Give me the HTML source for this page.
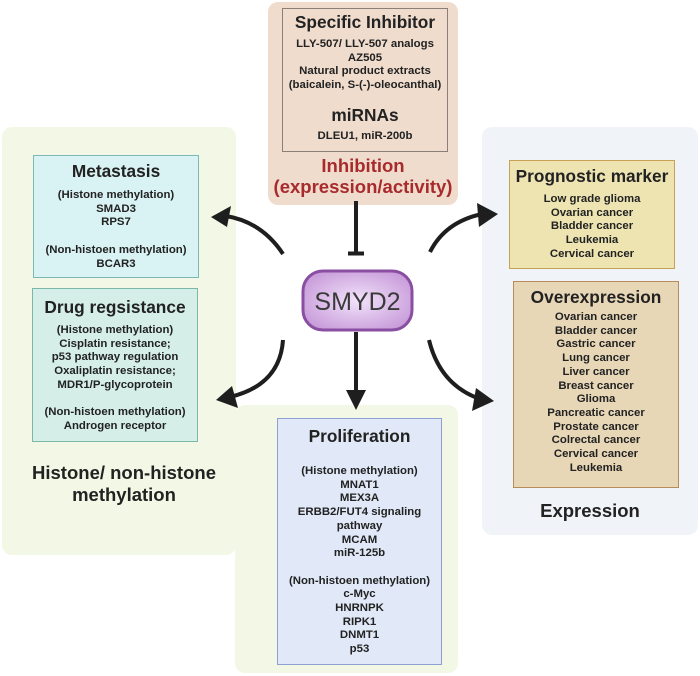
<!DOCTYPE html>
<html><head><meta charset="utf-8"><style>
body{margin:0;width:700px;height:676px;background:#fff;position:relative;overflow:hidden;font-family:"Liberation Sans",sans-serif;color:#222}
.a{position:absolute;box-sizing:border-box}
.t{text-align:center;font-weight:bold;font-size:11.4px;line-height:13.7px;white-space:nowrap}
.h{font-size:17.3px;line-height:20px;font-weight:bold;text-align:center;white-space:nowrap}
</style></head><body>
<div class="a" style="left:2px;top:127px;width:234px;height:428px;background:#f3f8e6;border-radius:10px"></div>
<div class="a" style="left:235px;top:405px;width:223px;height:268px;background:#f3f8e6;border-radius:10px"></div>
<div class="a" style="left:482px;top:127px;width:216px;height:408px;background:#f0f4f9;border-radius:10px"></div>
<div class="a" style="left:268px;top:2px;width:190px;height:203px;background:#efdccd;border-radius:10px"></div>

<div class="a" style="left:282px;top:8px;width:166px;height:144px;border:1px solid #8a8078;padding-top:3px">
<div class="h">Specific Inhibitor</div>
<div class="t" style="margin-top:6px">LLY-507/ LLY-507 analogs<br>AZ505<br>Natural product extracts<br>(baicalein, S-(-)-oleocanthal)</div>
<div class="h" style="margin-top:12px">miRNAs</div>
<div class="t" style="margin-top:5px">DLEU1, miR-200b</div>
</div>
<div class="a" style="left:268px;top:155px;width:190px;text-align:center;color:#a82a2c;font-weight:bold;font-size:18.5px;line-height:21px">Inhibition<br>(expression/activity)</div>

<div class="a" style="left:33px;top:155px;width:166px;height:123px;background:#d9f2f3;border:1px solid #7cb8b5;padding-top:5px">
<div class="h">Metastasis</div>
<div class="t" style="margin-top:8px">(Histone methylation)<br>SMAD3<br>RPS7<br><br>(Non-histoen methylation)<br>BCAR3</div>
</div>
<div class="a" style="left:32px;top:288px;width:166px;height:154px;background:#d5efe8;border:1px solid #7cb8a8;padding-top:8px">
<div class="h">Drug regsistance</div>
<div class="t" style="margin-top:7px">(Histone methylation)<br>Cisplatin resistance;<br>p53 pathway regulation<br>Oxaliplatin resistance;<br>MDR1/P-glycoprotein<br><br>(Non-histoen methylation)<br>Androgen receptor</div>
</div>
<div class="a" style="left:2px;top:462px;width:244px;text-align:center;font-weight:bold;font-size:18.5px;line-height:22px">Histone/ non-histone<br>methylation</div>

<div class="a" style="left:277px;top:418px;width:165px;height:247px;background:#e1e9f8;border:1px solid #8ea0d2;padding-top:7px">
<div class="h">Proliferation</div>
<div class="t" style="margin-top:19px">(Histone methylation)<br>MNAT1<br>MEX3A<br>ERBB2/FUT4 signaling<br>pathway<br>MCAM<br>miR-125b<br><br>(Non-histoen methylation)<br>c-Myc<br>HNRNPK<br>RIPK1<br>DNMT1<br>p53</div>
</div>

<div class="a" style="left:509px;top:160px;width:166px;height:109px;background:#ede4b2;border:1px solid #c6a252;padding-top:5px">
<div class="h">Prognostic marker</div>
<div class="t" style="margin-top:7px">Low grade glioma<br>Ovarian cancer<br>Bladder cancer<br>Leukemia<br>Cervical cancer</div>
</div>
<div class="a" style="left:513px;top:281px;width:166px;height:207px;background:#e7d7b6;border:1px solid #b98a5a;padding-top:5px">
<div class="h">Overexpression</div>
<div class="t" style="margin-top:4px">Ovarian cancer<br>Bladder cancer<br>Gastric cancer<br>Lung cancer<br>Liver cancer<br>Breast cancer<br>Glioma<br>Pancreatic cancer<br>Prostate cancer<br>Colrectal cancer<br>Cervical cancer<br>Leukemia</div>
</div>
<div class="a" style="left:482px;top:500px;width:216px;text-align:center;font-weight:bold;font-size:18.5px;line-height:22px">Expression</div>

<svg class="a" style="left:0;top:0" width="700" height="676">
<defs><radialGradient id="g" cx="50%" cy="50%" r="60%"><stop offset="0" stop-color="#f2e2fa"/><stop offset="1" stop-color="#c79ad9"/></radialGradient></defs>
<rect x="303" y="271" width="109" height="59" rx="20" fill="url(#g)" stroke="#8a4ea2" stroke-width="3"/>
<text x="357.5" y="310" text-anchor="middle" font-family="Liberation Sans" font-size="25" fill="#3a3a3a">SMYD2</text>
<g stroke="#1e1e1e" stroke-width="4" fill="none">
<line x1="356" y1="201" x2="356" y2="253"/>
<line x1="348" y1="253.5" x2="364" y2="253.5"/>
<line x1="356" y1="332" x2="356" y2="393"/>
<path d="M283 254 Q262 222 226 216"/>
<path d="M283 340 Q280 385 230 397"/>
<path d="M430 252 Q445 222 482 214"/>
<path d="M429 340 Q440 385 480 399"/>
</g>
<g fill="#1e1e1e">
<polygon points="346,390 366,390 356,410"/>
<polygon points="211,217 231,206 227,227"/>
<polygon points="216,400 232,386 238,408"/>
<polygon points="498,214 477,203 479,227"/>
<polygon points="494,401 476,388 472,411"/>
</g>
</svg>
</body></html>
